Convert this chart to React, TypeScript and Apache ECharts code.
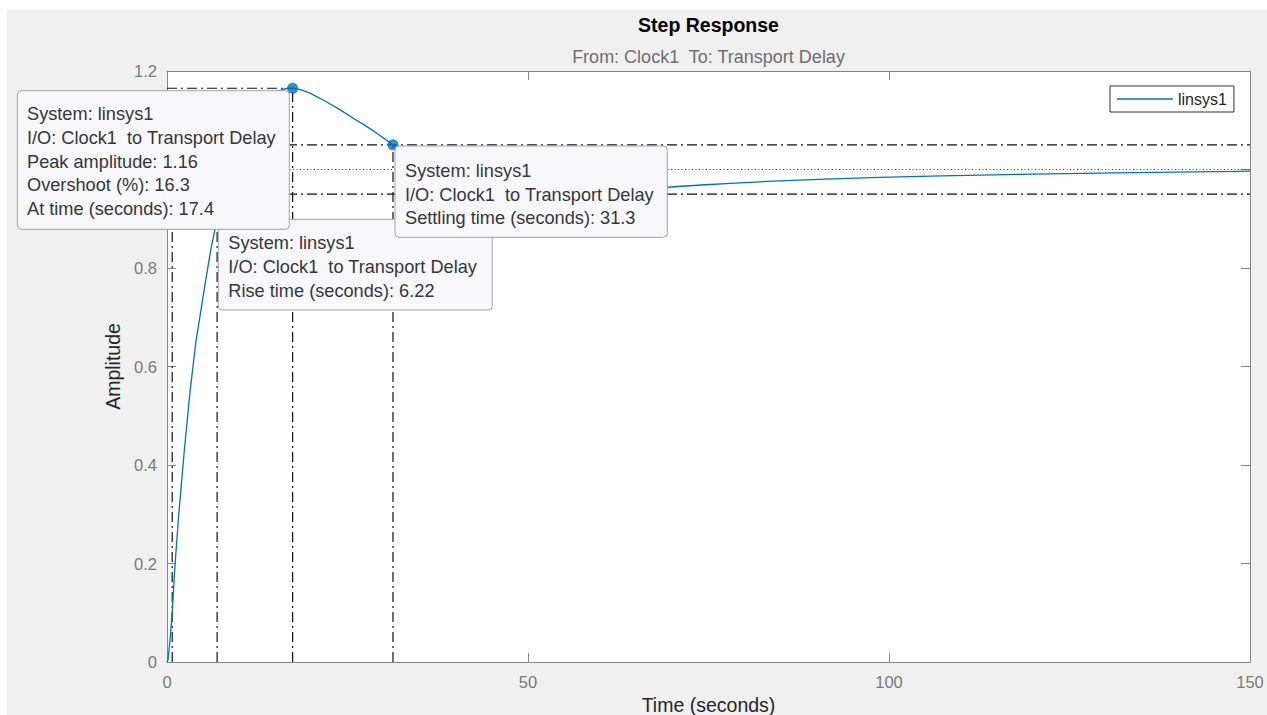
import React, { useEffect, useRef } from "react";
import * as echarts from "echarts";

// ---- data ----
const timeSec = [
  0, 0.15, 0.45, 0.72, 0.9, 1.1, 1.6, 2.4, 3.2, 4.0, 4.6, 5.3, 6.1, 6.94,
  7.8, 8.8, 10.0, 11.2, 12.5, 13.8, 15.2, 16.4, 17.4, 18.5, 19.8, 22.0, 24.0, 25.8,
  27.7, 29.5, 31.3, 33.0, 35.0, 37.5, 40.0, 43.0, 46.0, 50.0, 54.0, 58.0, 62.0, 66.0,
  69.4, 71.3, 74.6, 78.1, 82.1, 86.6, 92.2, 98.7, 107.3, 118.1, 131.2, 147.9, 150,
];
const amplitude = [
  0, 0.005, 0.05, 0.1, 0.145, 0.195, 0.295, 0.43, 0.55, 0.65, 0.705, 0.77, 0.84, 0.9,
  0.95, 1.0, 1.05, 1.09, 1.122, 1.144, 1.158, 1.164, 1.165, 1.162, 1.155, 1.138, 1.121, 1.104,
  1.087, 1.069, 1.05, 1.034, 1.017, 0.999, 0.984, 0.971, 0.963, 0.957, 0.955, 0.956, 0.958, 0.961,
  0.964, 0.966, 0.969, 0.972, 0.975, 0.978, 0.981, 0.984, 0.987, 0.99, 0.993, 0.996, 0.9965,
];

const xMin = 0, xMax = 150, xStep = 50;
const yMin = 0, yMax = 1.2, yStep = 0.2;

// response characteristics
const peakTime = 17.4;
const peakValue = 1.165;
const settleTime = 31.3;
const settleValue = 1.05;
const finalValue = 1.0;
const bandHigh = 1.05;
const bandLow = 0.95;
const riseStart = 0.72;
const riseEnd = 6.94;
const riseTop = 0.9;
const hiddenYLabel = 1; // covered by the peak data tip in the reference

const seriesName = "linsys1";
const titleText = "Step Response";
const subtitleText = "From: Clock1  To: Transport Delay";
const peakTip = [
  "System: linsys1",
  "I/O: Clock1  to Transport Delay",
  "Peak amplitude: 1.16",
  "Overshoot (%): 16.3",
  "At time (seconds): 17.4",
];
const riseTip = ["System: linsys1", "I/O: Clock1  to Transport Delay", "Rise time (seconds): 6.22"];
const settleTip = ["System: linsys1", "I/O: Clock1  to Transport Delay", "Settling time (seconds): 31.3"];

const FONT = '"Liberation Sans", Arial, Helvetica, sans-serif';
const BLUE = "#0072BD";
const DASHDOT = [10, 4, 2, 4];

function tipGroup(x: number, y: number, w: number, h: number, lines: string[], tx: number, ty: number) {
  const lh = 23.7;
  return {
    type: "group",
    x,
    y,
    children: [
      {
        type: "rect",
        z: 100,
        shape: { x: 0, y: 0, width: w, height: h, r: 4 },
        style: { fill: "#f8f8fc", stroke: "#a3a3a3", lineWidth: 1 },
      },
      {
        type: "text",
        z: 101,
        x: tx,
        y: ty - lh / 2,
        style: {
          text: lines.join("\n"),
          font: `18.2px ${FONT}`,
          fill: "#363636",
          lineHeight: lh,
          align: "left",
          verticalAlign: "top",
        },
      },
    ],
  };
}

function refLine(name: string, pts: number[][], type: any, color = "#111111", width = 1.2) {
  return {
    name,
    type: "line",
    data: pts,
    symbol: "none",
    silent: true,
    z: 1,
    lineStyle: { color, width, type },
    animation: false,
  };
}

export default function App() {
  const ref = useRef<HTMLDivElement>(null);
  useEffect(() => {
    if (!ref.current) return;
    const chart = echarts.init(ref.current, null, { renderer: "svg" });
    const curve = timeSec.map((t, i) => [t, amplitude[i]]);
    const axisGray = "#858585";
    const tick = { show: true, inside: true, length: 9, lineStyle: { color: axisGray, width: 1 } };
    const line = { show: true, onZero: false, lineStyle: { color: axisGray, width: 1 } };
    chart.setOption({
      animation: false,
      backgroundColor: "transparent",
      textStyle: { fontFamily: FONT },
      grid: {
        left: 160,
        top: 61,
        right: 17,
        bottom: 53,
        containLabel: false,
        outerBoundsMode: "none",
        show: true,
        backgroundColor: "#ffffff",
        borderWidth: 0,
      },
      legend: {
        data: [seriesName],
        left: 1103,
        top: 76,
        padding: [5, 7, 5, 7],
        backgroundColor: "#ffffff",
        borderColor: "#333333",
        borderWidth: 1,
        borderRadius: 0,
        icon: "rect",
        itemWidth: 56,
        itemHeight: 1.5,
        itemGap: 5,
        textStyle: { fontSize: 16, color: "#262626", fontFamily: FONT },
      },
      xAxis: [
        {
          type: "value",
          min: xMin,
          max: xMax,
          interval: xStep,
          position: "bottom",
          name: "Time (seconds)",
          nameLocation: "middle",
          nameGap: 33,
          nameTextStyle: { fontSize: 19.5, color: "#262626", fontFamily: FONT },
          axisLine: line,
          axisTick: tick,
          axisLabel: { fontSize: 16.5, color: "#7a7a7a", margin: 11, fontFamily: FONT },
          splitLine: { show: false },
        },
        {
          type: "value",
          min: xMin,
          max: xMax,
          interval: xStep,
          position: "top",
          axisLine: line,
          axisTick: tick,
          axisLabel: { show: false },
          splitLine: { show: false },
        },
      ],
      yAxis: [
        {
          type: "value",
          min: yMin,
          max: yMax,
          interval: yStep,
          position: "left",
          name: "Amplitude",
          nameLocation: "middle",
          nameGap: 41,
          nameRotate: 90,
          nameTextStyle: { fontSize: 19.5, color: "#262626", fontFamily: FONT },
          axisLine: line,
          axisTick: tick,
          axisLabel: {
            fontSize: 16.5,
            color: "#7a7a7a",
            margin: 10,
            fontFamily: FONT,
            formatter: (v: number) => (Math.abs(v - hiddenYLabel) < 1e-9 ? "" : String(Math.round(v * 10) / 10)),
          },
          splitLine: { show: false },
        },
        {
          type: "value",
          min: yMin,
          max: yMax,
          interval: yStep,
          position: "right",
          axisLine: line,
          axisTick: tick,
          axisLabel: { show: false },
          splitLine: { show: false },
        },
      ],
      series: [
        refLine("peak-h", [[xMin, peakValue], [peakTime, peakValue]], DASHDOT),
        refLine("peak-v", [[peakTime, yMin], [peakTime, peakValue]], DASHDOT),
        refLine("settle-v", [[settleTime, yMin], [settleTime, settleValue]], DASHDOT),
        refLine("band-high", [[xMin, bandHigh], [xMax, bandHigh]], DASHDOT),
        refLine("band-low", [[xMin, bandLow], [xMax, bandLow]], DASHDOT),
        refLine("final", [[xMin, finalValue], [xMax, finalValue]], [1, 2.5], "#333333", 1),
        refLine("rise-start", [[riseStart, yMin], [riseStart, riseTop]], DASHDOT),
        refLine("rise-end", [[riseEnd, yMin], [riseEnd, riseTop]], DASHDOT),
        {
          name: seriesName,
          type: "line",
          data: curve,
          symbol: "none",
          z: 3,
          itemStyle: { color: BLUE },
          lineStyle: { color: BLUE, width: 1.3 },
        },
        {
          name: "markers",
          type: "scatter",
          data: [
            [peakTime, peakValue],
            [settleTime, settleValue],
          ],
          symbol: "circle",
          symbolSize: 11,
          z: 4,
          itemStyle: { color: BLUE },
          silent: true,
        },
      ],
      graphic: [
        {
          type: "text",
          x: 701.5,
          y: 15,
          style: {
            text: titleText,
            font: `bold 19.5px ${FONT}`,
            fill: "#000000",
            align: "center",
            verticalAlign: "middle",
          },
        },
        {
          type: "text",
          x: 701.5,
          y: 46.7,
          style: {
            text: subtitleText,
            font: `18px ${FONT}`,
            fill: "#6e6e6e",
            align: "center",
            verticalAlign: "middle",
          },
        },
        tipGroup(211.3, 209.3, 274, 90.7, riseTip, 10, 24),
        tipGroup(388, 136, 272.3, 91.3, settleTip, 10, 25),
        tipGroup(10.3, 80.7, 272, 138.6, peakTip, 9.7, 23.6),
      ],
    });
    return () => chart.dispose();
  }, []);
  return (
    <div
      ref={ref}
      style={{
        position: "absolute",
        left: 7,
        top: 10,
        width: 1260,
        height: 705,
        background: "#f0f0f0",
      }}
    />
  );
}
